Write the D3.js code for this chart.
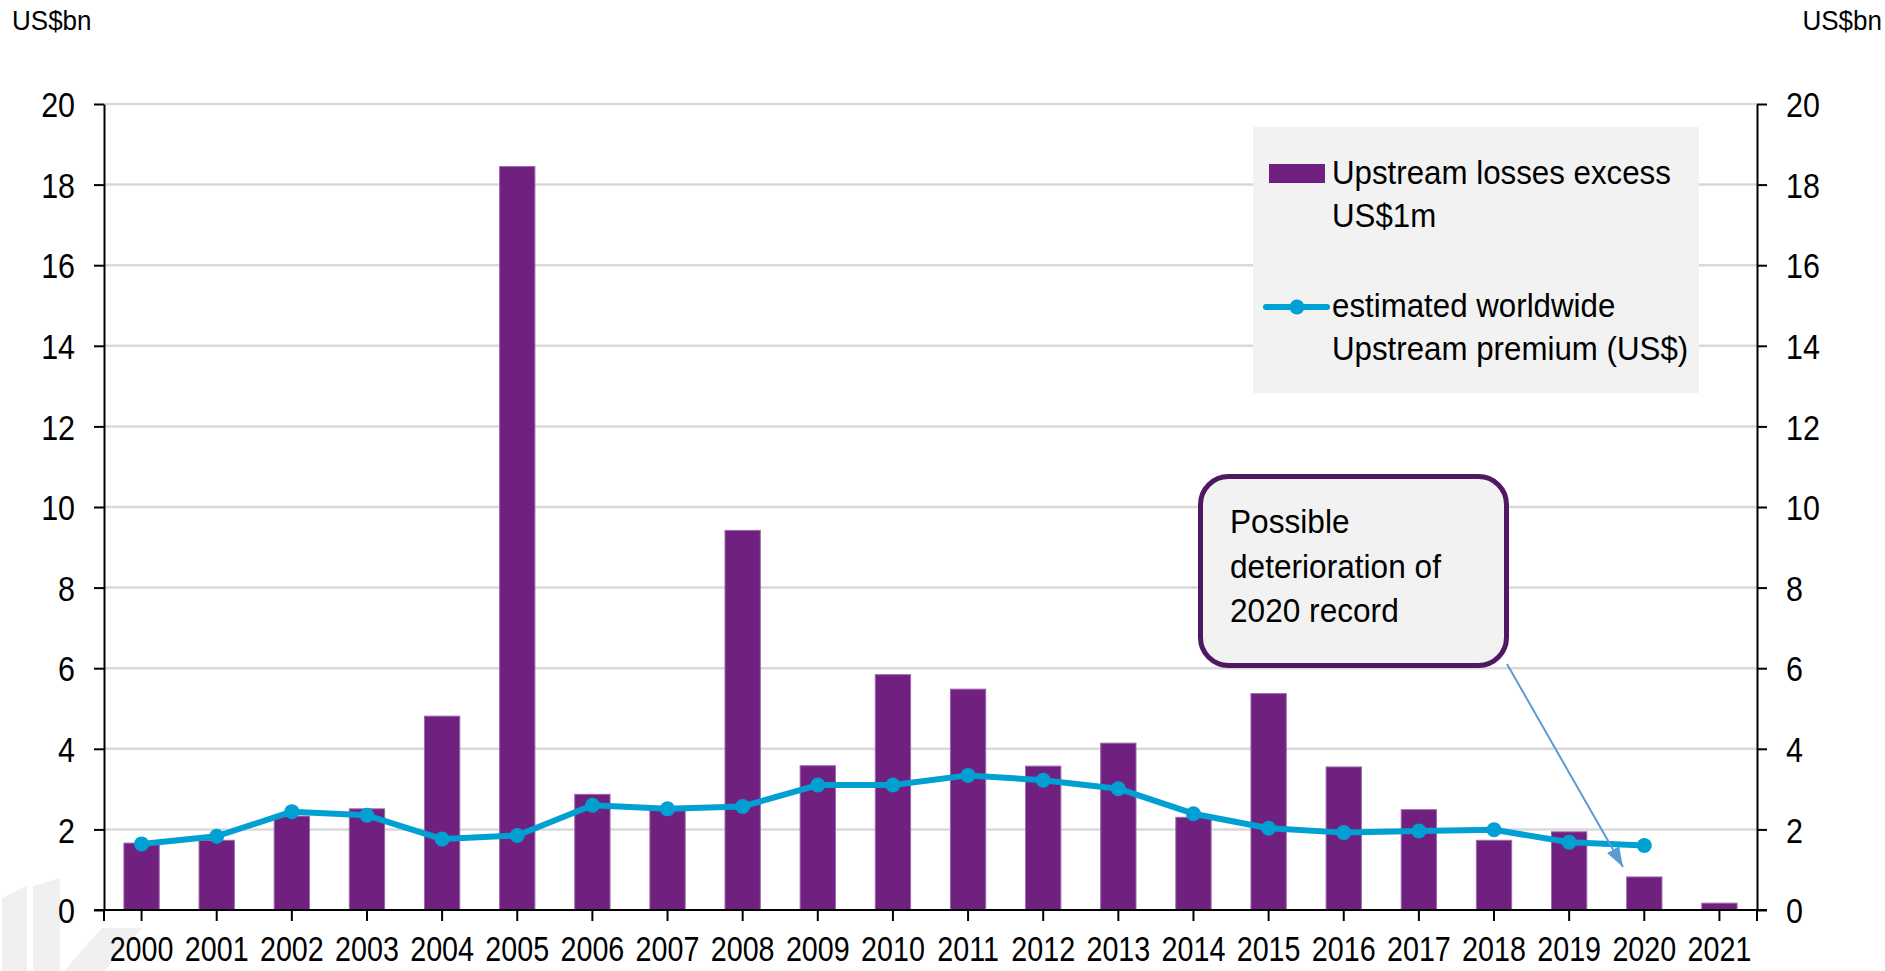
<!DOCTYPE html>
<html>
<head>
<meta charset="utf-8">
<script src="https://cdn.jsdelivr.net/npm/d3@7"></script>
<style>
  body { margin: 0; background: #fff; }
  svg { display: block; }
  text { font-family: "Liberation Sans", Arial, Helvetica, sans-serif; fill: #000; }
</style>
</head>
<body>
<svg id="chart" width="1885" height="971"></svg>
<script>
// ---- data ----
const years = [2000, 2001, 2002, 2003, 2004, 2005, 2006, 2007, 2008, 2009, 2010,
               2011, 2012, 2013, 2014, 2015, 2016, 2017, 2018, 2019, 2020, 2021];
// Upstream losses in excess of US$1m (US$bn)
const losses = [1.66, 1.73, 2.33, 2.51, 4.81, 18.45, 2.87, 2.52, 9.42, 3.58, 5.84,
                5.48, 3.57, 4.14, 2.30, 5.37, 3.55, 2.49, 1.73, 1.94, 0.82, 0.17];
// Estimated worldwide upstream premium (US$bn), 2000-2020
const premiumYears = years.slice(0, 21);
const premium = [1.64, 1.83, 2.44, 2.35, 1.76, 1.85, 2.60, 2.51, 2.57, 3.10, 3.10,
                 3.34, 3.22, 3.01, 2.39, 2.03, 1.92, 1.96, 1.99, 1.68, 1.60];
const yTicks = [0, 2, 4, 6, 8, 10, 12, 14, 16, 18, 20];
const unitLabel = "US$bn";
const lossLabel = ["Upstream losses excess", "US$1m"];
const premiumLabel = ["estimated worldwide", "Upstream premium (US$)"];
const noteLines = ["Possible", "deterioration of", "2020 record"];

// ---- styling ----
const PURPLE = "#70207f";
const BLUE = "#00a0d2";
const GRID = "#d9d9d9";
const FONT_AXIS = 35;
const FONT_TEXT = 34;

const svg = d3.select("#chart");
const plot = { left: 104, right: 1757, top: 104, bottom: 910 };

const x = d3.scaleBand()
  .domain(years)
  .range([plot.left, plot.right])
  .paddingInner(0.53)
  .paddingOuter(0.265);
const cx = d => x(d) + x.bandwidth() / 2;

const y = d3.scaleLinear().domain([0, 20]).range([plot.bottom, plot.top]);

// Narrow a text element horizontally around its anchor point
function squeeze(sel, sx) {
  sel.each(function () {
    const t = d3.select(this);
    const tx = +t.attr("x") || 0, ty = +t.attr("y") || 0;
    t.attr("x", 0).attr("y", 0)
     .attr("transform", `translate(${tx},${ty}) scale(${sx},1)`);
  });
}

// faint logo mark in the lower-left corner
const logo = svg.append("g").attr("fill", "#f0f0f0");
logo.append("polygon").attr("points", "2,898 27,886 27,971 2,971");
logo.append("polygon").attr("points", "33,886 60,878 60,971 33,971");
logo.append("polygon").attr("points", "64,971 102,928 142,928 104,971");

// gridlines
svg.append("g")
  .selectAll("line")
  .data(yTicks.filter(v => v > 0))
  .join("line")
  .attr("x1", plot.left).attr("x2", plot.right)
  .attr("y1", d => y(d)).attr("y2", d => y(d))
  .attr("stroke", GRID).attr("stroke-width", 2.5);

// bars
svg.append("g")
  .selectAll("rect")
  .data(years.map((yr, i) => ({ yr, v: losses[i] })))
  .join("rect")
  .attr("x", d => x(d.yr))
  .attr("width", x.bandwidth())
  .attr("y", d => y(d.v))
  .attr("height", d => y(0) - y(d.v))
  .attr("fill", PURPLE)
  .attr("stroke", "#9c6aa9")
  .attr("stroke-width", 1);

// legend
const lg = svg.append("g");
lg.append("rect").attr("x", 1253).attr("y", 127).attr("width", 446).attr("height", 266)
  .attr("fill", "#f2f2f2");
lg.append("rect").attr("x", 1269).attr("y", 164).attr("width", 56).attr("height", 19)
  .attr("fill", PURPLE);
lg.append("line").attr("x1", 1266).attr("x2", 1327).attr("y1", 307).attr("y2", 307)
  .attr("stroke", BLUE).attr("stroke-width", 6).attr("stroke-linecap", "round");
lg.append("circle").attr("cx", 1297).attr("cy", 307).attr("r", 7.5).attr("fill", BLUE);
const legendText = [[lossLabel[0], 184], [lossLabel[1], 227], [premiumLabel[0], 317], [premiumLabel[1], 360]];
lg.selectAll("text.leg")
  .data(legendText)
  .join("text")
  .attr("class", "leg")
  .attr("x", 1332).attr("y", d => d[1])
  .attr("font-size", FONT_TEXT)
  .text(d => d[0])
  .call(squeeze, 0.92);

// premium line
const line = d3.line().x((d, i) => cx(premiumYears[i])).y(d => y(d));
svg.append("path")
  .datum(premium)
  .attr("d", line)
  .attr("fill", "none")
  .attr("stroke", BLUE)
  .attr("stroke-width", 6)
  .attr("stroke-linejoin", "round");
svg.append("g")
  .selectAll("circle")
  .data(premium)
  .join("circle")
  .attr("cx", (d, i) => cx(premiumYears[i]))
  .attr("cy", d => y(d))
  .attr("r", 7.5)
  .attr("fill", BLUE);

// axes
function styleAxis(g) {
  g.select(".domain").attr("stroke", "#000").attr("stroke-width", 2);
  g.selectAll(".tick line").attr("stroke", "#000").attr("stroke-width", 2);
}

const leftAxis = svg.append("g")
  .attr("transform", `translate(${plot.left},0)`)
  .call(d3.axisLeft(y).tickValues(yTicks).tickSize(10).tickSizeOuter(0).tickPadding(19))
  .call(styleAxis);
leftAxis.selectAll(".tick text").attr("font-size", FONT_AXIS).attr("dy", "0.36em")
  .attr("font-family", null).call(squeeze, 0.87);

const rightAxis = svg.append("g")
  .attr("transform", `translate(${plot.right},0)`)
  .call(d3.axisRight(y).tickValues(yTicks).tickSize(10).tickSizeOuter(0).tickPadding(19))
  .call(styleAxis);
rightAxis.selectAll(".tick text").attr("font-size", FONT_AXIS).attr("dy", "0.36em")
  .attr("font-family", null).call(squeeze, 0.87);

const bottomAxis = svg.append("g")
  .attr("transform", `translate(0,${plot.bottom})`)
  .call(d3.axisBottom(x).tickSize(11).tickSizeOuter(0).tickPadding(15))
  .call(styleAxis);
bottomAxis.select(".domain").attr("d", `M${plot.left - 10},0H${plot.right + 10}`);
bottomAxis.selectAll(".tick text").attr("font-size", FONT_AXIS).attr("dy", "0.71em")
  .attr("font-family", null).call(squeeze, 0.82);
// end ticks below the plot corners
[plot.left, plot.right].forEach(px => {
  bottomAxis.append("line").attr("x1", px).attr("x2", px).attr("y1", 0).attr("y2", 11)
    .attr("stroke", "#000").attr("stroke-width", 2);
});
svg.selectAll(".tick text").attr("fill", "#000");

// unit labels
svg.append("text").attr("x", 12).attr("y", 30).attr("font-size", 28).text(unitLabel)
  .call(squeeze, 0.93);
svg.append("text").attr("x", 1882).attr("y", 30).attr("font-size", 28)
  .attr("text-anchor", "end").text(unitLabel).call(squeeze, 0.93);

// annotation callout
const note = svg.append("g");
note.append("rect")
  .attr("x", 1200.5).attr("y", 476.5).attr("width", 306).attr("height", 189)
  .attr("rx", 28).attr("ry", 28)
  .attr("fill", "#f2f2f2").attr("stroke", "#501862").attr("stroke-width", 5);
note.selectAll("text")
  .data(noteLines)
  .join("text")
  .attr("x", 1230).attr("y", (d, i) => 533 + i * 44.5)
  .attr("font-size", FONT_TEXT)
  .text(d => d)
  .call(squeeze, 0.93);

svg.append("defs").append("marker")
  .attr("id", "arrowHead")
  .attr("viewBox", "0 0 10 10")
  .attr("refX", 10).attr("refY", 5)
  .attr("markerWidth", 10).attr("markerHeight", 10)
  .attr("markerUnits", "strokeWidth")
  .attr("orient", "auto")
  .append("path").attr("d", "M0,1.5L10,5L0,8.5Z").attr("fill", "#5b9bd5");
svg.append("line")
  .attr("x1", 1507).attr("y1", 664).attr("x2", 1623).attr("y2", 867)
  .attr("stroke", "#5b9bd5").attr("stroke-width", 2)
  .attr("marker-end", "url(#arrowHead)");
</script>
</body>
</html>
